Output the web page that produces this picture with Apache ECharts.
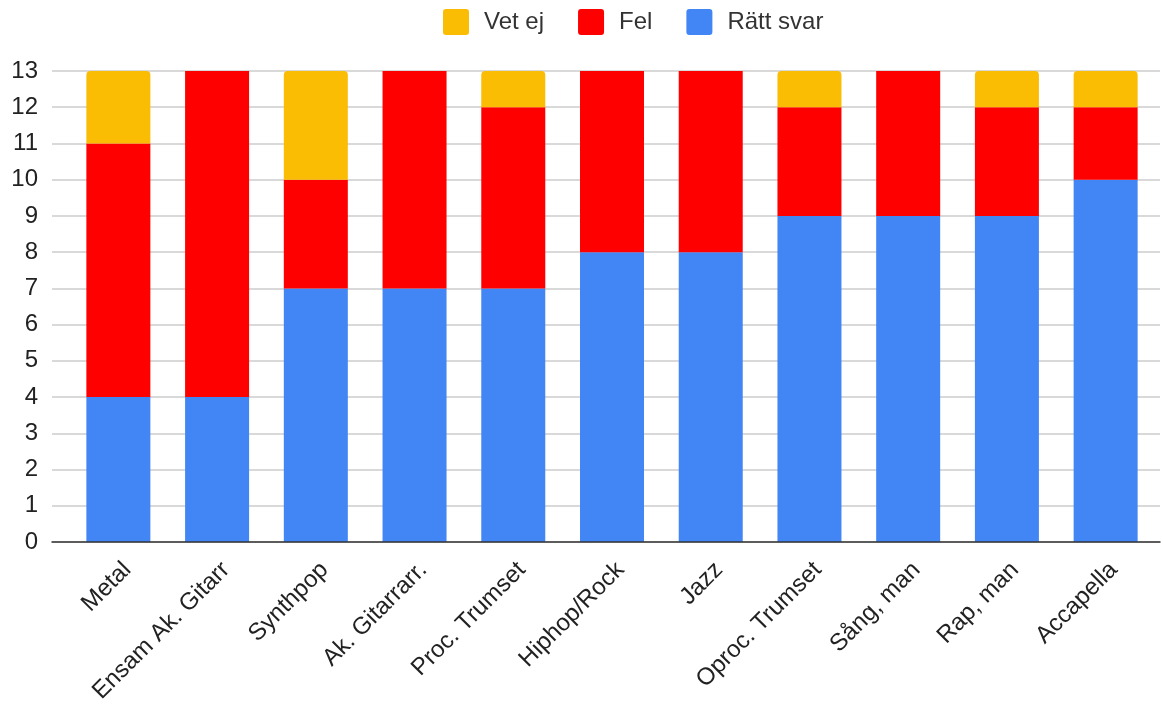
<!DOCTYPE html>
<html>
<head>
<meta charset="utf-8">
<script src="https://cdn.jsdelivr.net/npm/echarts@6/dist/echarts.min.js"></script>
<style>html,body{margin:0;padding:0;background:#fff}#c{width:1163px;height:706px}</style>
</head>
<body>
<div id="c"></div>
<script>
const categories = ['Metal','Ensam Ak. Gitarr','Synthpop','Ak. Gitarrarr.','Proc. Trumset','Hiphop/Rock','Jazz','Oproc. Trumset','Sång, man','Rap, man','Accapella'];
const rattSvar = [4,4,7,7,7,8,8,9,9,9,10];
const fel      = [7,9,3,6,5,5,5,3,4,3,2];
const vetEj    = [2,0,3,0,1,0,0,1,0,1,1];
const yTicks = {min:0, max:13, interval:1};

const font = 'Liberation Sans, Arial, sans-serif';
const icon = 'path://M3,0 H23 A3,3 0 0 1 26,3 V23 A3,3 0 0 1 23,26 H3 A3,3 0 0 1 0,23 V3 A3,3 0 0 1 3,0 Z';
const chart = echarts.init(document.getElementById('c'));
chart.setOption({
  animation:false,
  legend:{
    data:['Vet ej','Fel','Rätt svar'],
    top:4, left:438,
    icon:icon, itemWidth:26, itemHeight:26, itemGap:34,
    textStyle:{fontFamily:font, fontSize:24, color:'#333', padding:[0,0,0,10]}
  },
  grid:[
    {left:52, right:3, top:71, bottom:164},
    {left:69, right:8, top:71, bottom:164},
    {left:78, right:-1, top:71, bottom:164}
  ],
  xAxis:[
    {gridIndex:0, type:'category', data:categories, axisLabel:{show:false}, axisTick:{show:false},
     axisLine:{show:true, lineStyle:{color:'#333', width:1.5}}, z:5},
    {gridIndex:1, type:'category', data:categories, axisTick:{show:false}, axisLine:{show:false},
     axisLabel:{show:false}},
    {gridIndex:2, type:'category', data:categories, axisTick:{show:false}, axisLine:{show:false},
     axisLabel:{rotate:45, interval:0, fontFamily:font, fontSize:24, color:'#222', margin:31}}
  ],
  yAxis:[
    {gridIndex:0, type:'value', min:yTicks.min, max:yTicks.max, interval:yTicks.interval,
     axisLabel:{fontFamily:font, fontSize:24, color:'#222', margin:14},
     splitLine:{lineStyle:{color:'#cccccc', width:1.5}}, axisLine:{show:false}, axisTick:{show:false}},
    {gridIndex:1, type:'value', min:yTicks.min, max:yTicks.max, interval:yTicks.interval,
     axisLabel:{show:false}, splitLine:{show:false}, axisLine:{show:false}, axisTick:{show:false}},
    {gridIndex:2, type:'value', min:yTicks.min, max:yTicks.max, interval:yTicks.interval,
     axisLabel:{show:false}, splitLine:{show:false}, axisLine:{show:false}, axisTick:{show:false}}
  ],
  series:[
    {name:'Rätt svar', type:'bar', stack:'s', xAxisIndex:1, yAxisIndex:1, data:rattSvar, barWidth:64,
     itemStyle:{color:'#4285F4'}},
    {name:'Fel', type:'bar', stack:'s', xAxisIndex:1, yAxisIndex:1, data:fel, barWidth:64,
     itemStyle:{color:'#FF0000'}},
    {name:'Vet ej', type:'bar', stack:'s', xAxisIndex:1, yAxisIndex:1, data:vetEj, barWidth:64,
     itemStyle:{color:'#FBBC04', borderRadius:[4,4,0,0]}}
  ]
});
</script>
</body>
</html>
